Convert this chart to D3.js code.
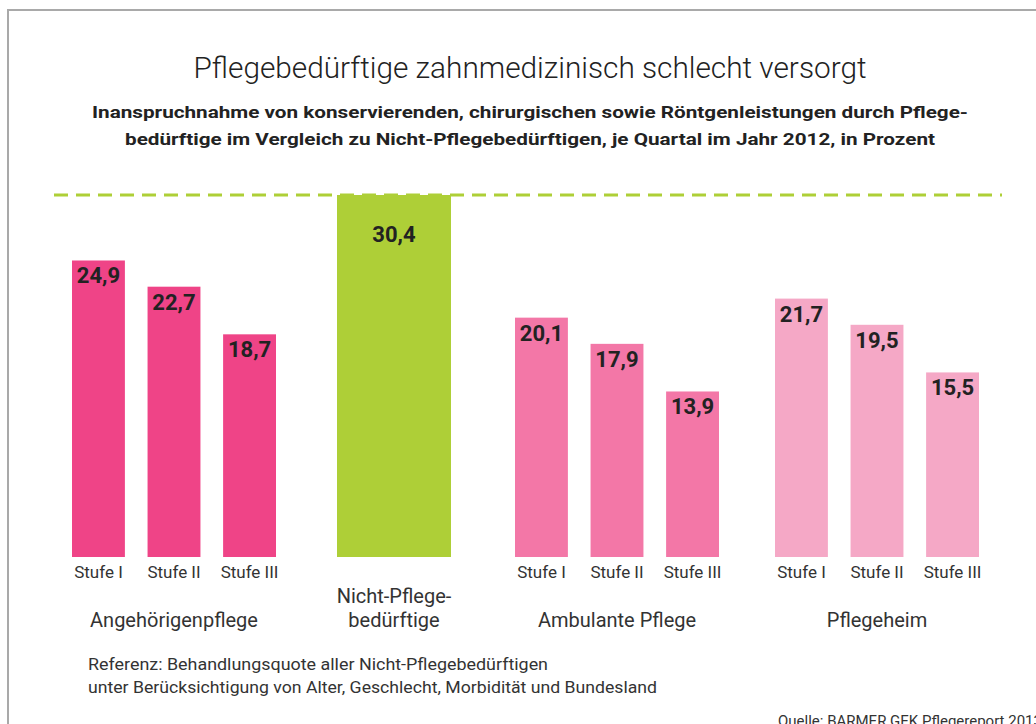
<!DOCTYPE html>
<html>
<head>
<meta charset="utf-8">
<script src="https://cdn.jsdelivr.net/npm/d3@7"></script>
<style>
  body { margin: 0; background: #fff; }
  svg { display: block; font-family: Roboto, "Open Sans", sans-serif; }
</style>
</head>
<body>
<div id="chart"></div>
<script>
// Daten
const groups = ["Angehörigenpflege", "Nicht-Pflegebedürftige", "Ambulante Pflege", "Pflegeheim"];
const stufen = ["Stufe I", "Stufe II", "Stufe III"];
const angehoerige = [24.9, 22.7, 18.7];
const ambulant = [20.1, 17.9, 13.9];
const pflegeheim = [21.7, 19.5, 15.5];
const referenz = 30.4;
const groupColors = ["#ef4487", "#aecf37", "#f377a7", "#f5a8c6"];

const width = 1036, height = 724;

const svg = d3.select("#chart").append("svg")
    .attr("width", width)
    .attr("height", height);

// Rahmen
svg.append("path")
    .attr("d", `M8,${height} V10 H${width}`)
    .attr("fill", "none")
    .attr("stroke", "#a9a9a9")
    .attr("stroke-width", 2);

// Titel
svg.append("text")
    .attr("x", 530).attr("y", 78)
    .attr("text-anchor", "middle")
    .attr("textLength", 673).attr("lengthAdjust", "spacingAndGlyphs")
    .style("font-size", "30px").style("font-weight", 300).style("fill", "#222")
    .text("Pflegebedürftige zahnmedizinisch schlecht versorgt");

const sub = [
    ["Inanspruchnahme von konservierenden, chirurgischen sowie Röntgenleistungen durch Pflege-", 118, 876],
    ["bedürftige im Vergleich zu Nicht-Pflegebedürftigen, je Quartal im Jahr 2012, in Prozent", 145, 810]
];
sub.forEach(([t, y, w]) => {
    svg.append("text")
        .attr("x", 530).attr("y", y)
        .attr("text-anchor", "middle")
        .attr("textLength", w).attr("lengthAdjust", "spacingAndGlyphs")
        .style("font-size", "17px").style("font-weight", "bold").style("fill", "#222")
        .text(t);
});

// Skalen
const y = d3.scaleLinear().domain([0, referenz]).range([557, 195]);
const gx = d3.scaleOrdinal().domain(groups).range([174, 394, 617, 877]);
const sx = d3.scaleBand().domain(stufen).range([-102, 102]).paddingInner(0.3);

// Referenzlinie
svg.append("line")
    .attr("x1", 54).attr("x2", 1002)
    .attr("y1", y(referenz)).attr("y2", y(referenz))
    .attr("stroke", groupColors[1])
    .attr("stroke-width", 3)
    .attr("stroke-dasharray", "14 8");

const stufenGroups = [
    { name: groups[0], values: angehoerige, color: groupColors[0] },
    { name: groups[2], values: ambulant, color: groupColors[2] },
    { name: groups[3], values: pflegeheim, color: groupColors[3] }
];

stufenGroups.forEach(grp => {
    const g = svg.append("g").attr("transform", `translate(${gx(grp.name)},0)`);
    const data = stufen.map((s, i) => ({ stufe: s, value: grp.values[i] }));

    g.selectAll(".bar").data(data).enter().append("rect")
        .attr("x", d => sx(d.stufe))
        .attr("y", d => y(d.value))
        .attr("width", sx.bandwidth())
        .attr("height", d => y(0) - y(d.value))
        .attr("fill", grp.color);

    g.selectAll(".val").data(data).enter().append("text")
        .attr("x", d => sx(d.stufe) + sx.bandwidth() / 2)
        .attr("y", d => y(d.value) + 23)
        .attr("text-anchor", "middle")
        .style("font-size", "22px").style("font-weight", "bold").style("fill", "#222")
        .text(d => d3.format(".1f")(d.value).replace(".", ","));

    g.selectAll(".stufe").data(data).enter().append("text")
        .attr("x", d => sx(d.stufe) + sx.bandwidth() / 2)
        .attr("y", 578)
        .attr("text-anchor", "middle")
        .style("font-size", "17px").style("fill", "#333")
        .text(d => d.stufe);

    g.append("text")
        .attr("x", 0).attr("y", 627)
        .attr("text-anchor", "middle")
        .style("font-size", "20px").style("fill", "#333")
        .text(grp.name);
});

// Nicht-Pflegebedürftige (Referenz)
const refW = 114;
svg.append("rect")
    .attr("x", gx(groups[1]) - refW / 2)
    .attr("y", y(referenz))
    .attr("width", refW)
    .attr("height", y(0) - y(referenz))
    .attr("fill", groupColors[1]);

svg.append("text")
    .attr("x", gx(groups[1])).attr("y", y(referenz) + 47)
    .attr("text-anchor", "middle")
    .style("font-size", "22px").style("font-weight", "bold").style("fill", "#222")
    .text(d3.format(".1f")(referenz).replace(".", ","));

svg.append("text")
    .attr("x", gx(groups[1])).attr("text-anchor", "middle")
    .style("font-size", "20px").style("fill", "#333")
    .selectAll("tspan").data(["Nicht-Pflege-", "bedürftige"]).enter().append("tspan")
    .attr("x", gx(groups[1]))
    .attr("y", (d, i) => 603 + i * 24)
    .text(d => d);

// Fußnote
const notes = [
    ["Referenz: Behandlungsquote aller Nicht-Pflegebedürftigen", 670, 460],
    ["unter Berücksichtigung von Alter, Geschlecht, Morbidität und Bundesland", 693, 569]
];
notes.forEach(([t, yy, w]) => {
    svg.append("text")
        .attr("x", 88).attr("y", yy)
        .attr("textLength", w).attr("lengthAdjust", "spacingAndGlyphs")
        .style("font-size", "16px").style("fill", "#333")
        .text(t);
});

// Quelle (im Original am Rand abgeschnitten)
svg.append("text")
    .attr("x", 778).attr("y", 726)
    .style("font-size", "15px").style("fill", "#333")
    .text("Quelle: BARMER GEK Pflegereport 2013");
</script>
</body>
</html>
